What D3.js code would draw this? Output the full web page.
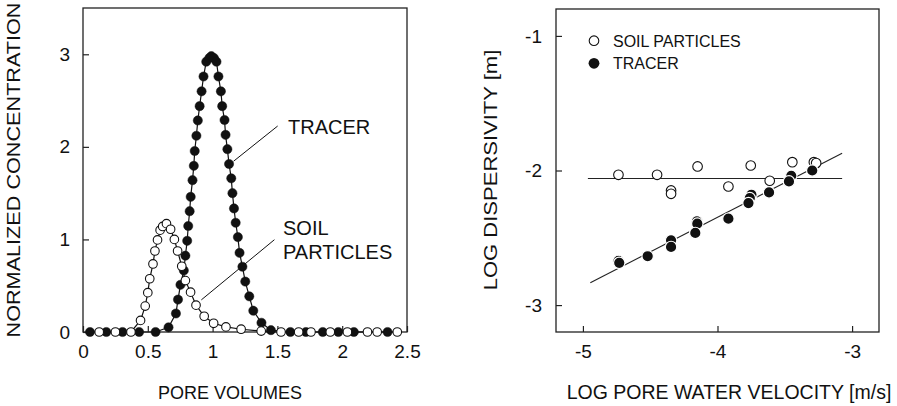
<!DOCTYPE html>
<html>
<head>
<meta charset="utf-8">
<script src="https://cdn.jsdelivr.net/npm/d3@7/dist/d3.min.js"></script>
<style>
  html, body { margin: 0; padding: 0; background: #fff; }
  svg { display: block; }
  text { font-family: "Liberation Sans", Arial, Helvetica, sans-serif; fill: #111; }
</style>
</head>
<body>
<svg id="chart" width="897" height="406"></svg>
<script>
// ---- Breakthrough curves (left panel) ----
const tracerPV = [0.054, 0.18, 0.305, 0.433, 0.56, 0.66, 0.717, 0.733, 0.752, 0.778, 0.79, 0.804, 0.812,
  0.823, 0.831, 0.845, 0.855, 0.862, 0.875, 0.886, 0.90, 0.915, 0.93, 0.951, 0.975, 0.99, 1.01, 1.03,
  1.045, 1.064, 1.074, 1.092, 1.10, 1.114, 1.127, 1.144, 1.153, 1.165, 1.178, 1.195, 1.208, 1.23,
  1.252, 1.283, 1.314, 1.377, 1.45, 1.60, 1.72, 1.85, 1.97, 2.09, 2.35];
const tracerC = [0, 0, 0, 0, 0, 0.05, 0.20, 0.35, 0.51, 0.665, 0.825, 0.985, 1.145,
  1.305, 1.46, 1.64, 1.795, 1.955, 2.12, 2.285, 2.44, 2.60, 2.76, 2.92, 2.96, 2.98, 2.96, 2.92,
  2.76, 2.60, 2.44, 2.29, 2.13, 1.975, 1.815, 1.66, 1.50, 1.335, 1.18, 1.025, 0.855, 0.705,
  0.545, 0.385, 0.23, 0.10, 0.02, 0, 0, 0, 0, 0, 0];

const soilPV = [0.125, 0.25, 0.37, 0.444, 0.48, 0.50, 0.515, 0.54, 0.555, 0.575, 0.595, 0.615, 0.644,
  0.676, 0.705, 0.73, 0.762, 0.79, 0.83, 0.872, 0.935, 1.008, 1.103, 1.22, 1.375, 1.528, 1.664,
  1.759, 1.908, 2.04, 2.195, 2.27, 2.425];
const soilC = [0, 0, 0, 0.125, 0.28, 0.425, 0.575, 0.735, 0.875, 0.995, 1.10, 1.14, 1.17,
  1.11, 1.0, 0.875, 0.71, 0.555, 0.43, 0.29, 0.17, 0.094, 0.055, 0.03, 0.01, 0, 0,
  0, 0, 0, 0, 0, 0];

const leftXTicks = [0, 0.5, 1, 1.5, 2, 2.5];
const leftYTicks = [0, 1, 2, 3];

// ---- Dispersivity vs. velocity (right panel) ----
const soilLogV = [-4.736, -4.449, -4.345, -4.345, -4.148, -3.919, -3.753, -3.612, -3.444, -3.284, -3.267];
const soilLogD = [-2.032, -2.032, -2.148, -2.173, -1.970, -2.119, -1.963, -2.076, -1.938, -1.938, -1.945];

const tracerLogV = [-4.736, -4.730, -4.519, -4.345, -4.345, -4.153, -4.150, -4.165, -3.919, -3.748, -3.760,
  -3.770, -3.617, -3.452, -3.469, -3.296];
const tracerLogD = [-2.672, -2.686, -2.637, -2.519, -2.568, -2.378, -2.395, -2.464, -2.358, -2.180, -2.205,
  -2.242, -2.163, -2.039, -2.081, -2.000];

// fitted lines: [logV start, logV end], [logD start, logD end]
const soilFitV = [-4.963, -3.074];
const soilFitD = [-2.059, -2.059];
const tracerFitV = [-4.945, -3.074];
const tracerFitD = [-2.834, -1.871];

const rightXTicks = [-5, -4, -3];
const rightYTicks = [-1, -2, -3];

const svg = d3.select("#chart");
const TICK_FONT = 19;

function frame(g, x, y) {
  const [x0, x1] = x.range(), [y0, y1] = y.range();
  g.append("rect")
    .attr("x", x0).attr("y", y1)
    .attr("width", x1 - x0).attr("height", y0 - y1)
    .attr("fill", "none").attr("stroke", "#222").attr("stroke-width", 1.3);
}

function axes(g, x, y, xt, yt, fmtX, fmtY, ypad) {
  const ax = g.append("g").attr("transform", `translate(0,${y.range()[0]})`)
    .call(d3.axisBottom(x).tickValues(xt).tickSize(-6).tickPadding(13).tickFormat(fmtX));
  const ay = g.append("g").attr("transform", `translate(${x.range()[0]},0)`)
    .call(d3.axisLeft(y).tickValues(yt).tickSize(-6).tickPadding(ypad).tickFormat(fmtY));
  [ax, ay].forEach(a => {
    a.select(".domain").remove();
    a.selectAll(".tick line").attr("stroke", "#222").attr("stroke-width", 1.2);
    a.selectAll(".tick text").attr("font-size", TICK_FONT)
      .attr("font-family", '"Liberation Sans", Arial, sans-serif').attr("fill", "#111");
  });
}

// ================= Left panel =================
const xL = d3.scaleLinear().domain([0, 2.5]).range([83, 407]);
const yL = d3.scaleLinear().domain([0, 3.5]).range([332, 8]);
const gL = svg.append("g");

const lineL = d3.line().x(d => xL(d[0])).y(d => yL(d[1]));
const tracerPts = tracerPV.map((v, i) => [v, tracerC[i]]);
const soilPts = soilPV.map((v, i) => [v, soilC[i]]);

gL.append("path").datum(tracerPts).attr("d", lineL)
  .attr("fill", "none").attr("stroke", "#111").attr("stroke-width", 1.2);
gL.append("path").datum(soilPts).attr("d", lineL)
  .attr("fill", "none").attr("stroke", "#111").attr("stroke-width", 1.2);

frame(gL, xL, yL);
axes(gL, xL, yL, leftXTicks, leftYTicks, d3.format("~g"), d3.format("d"), 13);

gL.append("g").selectAll("circle").data(tracerPts).join("circle")
  .attr("cx", d => xL(d[0])).attr("cy", d => yL(d[1])).attr("r", 4.6)
  .attr("fill", "#111").attr("stroke", "#111").attr("stroke-width", 0.5);
gL.append("g").selectAll("circle").data(soilPts).join("circle")
  .attr("cx", d => xL(d[0])).attr("cy", d => yL(d[1])).attr("r", 4.3)
  .attr("fill", "#fff").attr("stroke", "#111").attr("stroke-width", 1.1);

// leader lines and curve labels
gL.append("line")
  .attr("x1", xL(1.502)).attr("y1", yL(2.225)).attr("x2", xL(1.162)).attr("y2", yL(1.845))
  .attr("stroke", "#111").attr("stroke-width", 1);
gL.append("line")
  .attr("x1", xL(1.477)).attr("y1", yL(0.997)).attr("x2", xL(0.913)).attr("y2", yL(0.347))
  .attr("stroke", "#111").attr("stroke-width", 1);
gL.append("text").attr("x", 288).attr("y", 133.5).attr("font-size", 20).text("TRACER");
gL.append("text").attr("x", 283).attr("y", 235).attr("font-size", 20).text("SOIL");
gL.append("text").attr("x", 283).attr("y", 258.5).attr("font-size", 20).text("PARTICLES");

gL.append("text").attr("x", 230).attr("y", 399).attr("text-anchor", "middle")
  .attr("font-size", 18).text("PORE VOLUMES");
gL.append("text").attr("transform", "translate(20,170) rotate(-90) scale(1.17,1)")
  .attr("text-anchor", "middle").attr("font-size", 18.5).text("NORMALIZED CONCENTRATION");

// ================= Right panel =================
const xR = d3.scaleLinear().domain([-5.2, -2.8]).range([556, 879]);
const yR = d3.scaleLinear().domain([-3.2, -0.8]).range([332, 9]);
const gR = svg.append("g");

gR.append("line")
  .attr("x1", xR(soilFitV[0])).attr("y1", yR(soilFitD[0]))
  .attr("x2", xR(soilFitV[1])).attr("y2", yR(soilFitD[1]))
  .attr("stroke", "#222").attr("stroke-width", 1.1);
gR.append("line")
  .attr("x1", xR(tracerFitV[0])).attr("y1", yR(tracerFitD[0]))
  .attr("x2", xR(tracerFitV[1])).attr("y2", yR(tracerFitD[1]))
  .attr("stroke", "#222").attr("stroke-width", 1.1);

frame(gR, xR, yR);
axes(gR, xR, yR, rightXTicks, rightYTicks, d3.format("d"), d3.format("d"), 14);
gR.selectAll(".tick text").text(function () { return this.textContent.replace("\u2212", "-"); });

gR.append("g").selectAll("circle").data(soilLogV.map((v, i) => [v, soilLogD[i]])).join("circle")
  .attr("cx", d => xR(d[0])).attr("cy", d => yR(d[1])).attr("r", 4.8)
  .attr("fill", "#fff").attr("stroke", "#111").attr("stroke-width", 1.1);
gR.append("g").selectAll("circle").data(tracerLogV.map((v, i) => [v, tracerLogD[i]])).join("circle")
  .attr("cx", d => xR(d[0])).attr("cy", d => yR(d[1])).attr("r", 5.7)
  .attr("fill", "#111").attr("stroke", "#fff").attr("stroke-width", 1.2);

// legend
gR.append("circle").attr("cx", 594).attr("cy", 40.7).attr("r", 4.8)
  .attr("fill", "#fff").attr("stroke", "#111").attr("stroke-width", 1.1);
gR.append("circle").attr("cx", 594).attr("cy", 63.3).attr("r", 5.4).attr("fill", "#111");
gR.append("text").attr("x", 613).attr("y", 46.5).attr("font-size", 16).text("SOIL PARTICLES");
gR.append("text").attr("x", 613).attr("y", 69).attr("font-size", 16).text("TRACER");

gR.append("text").attr("x", 729).attr("y", 399).attr("text-anchor", "middle")
  .attr("font-size", 19.5).text("LOG PORE WATER VELOCITY [m/s]");
gR.append("text").attr("transform", "translate(497,170) rotate(-90) scale(1.19,1)")
  .attr("text-anchor", "middle").attr("font-size", 18.5).text("LOG DISPERSIVITY [m]");
</script>
</body>
</html>
